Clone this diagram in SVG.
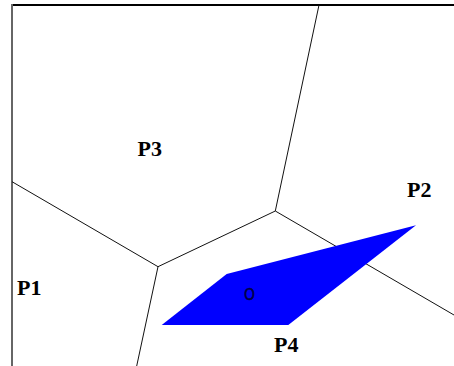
<svg xmlns="http://www.w3.org/2000/svg" width="454" height="366" viewBox="0 0 454 366">
<style>
.edge{stroke:#111;stroke-width:1;fill:none}
.lbl{font-family:"Liberation Serif",serif;font-weight:bold;font-size:22px;fill:#000}
</style>
<rect width="454" height="366" fill="#fff"/>
<g id="frame">
<line x1="12" y1="5" x2="454" y2="5" stroke="#000" stroke-width="2"/>
<line x1="12" y1="4" x2="12" y2="366" stroke="#666" stroke-width="2"/>
</g>
<g id="connectors">
<polyline class="edge" points="319,5 275.3,211 158,266.7 12,181.7"/>
<line class="edge" x1="158" y1="266.7" x2="136.7" y2="366"/>
<line class="edge" x1="275.3" y1="211" x2="454" y2="315"/>
</g>
<g id="region">
<polygon points="161.7,325 226.7,274 416,225.3 288.3,325" fill="#0000ff"/>
<text x="249.5" y="300.5" font-family="Liberation Sans,sans-serif" font-size="16" fill="#000040" stroke="#000040" stroke-width="0.6" text-anchor="middle" transform="translate(249.5 300.5) scale(0.85 1) translate(-249.5 -300.5)">O</text>
</g>
<g id="P3"><text class="lbl" x="137.5" y="155.5">P3</text></g>
<g id="P2"><text class="lbl" x="407" y="196.5">P2</text></g>
<g id="P1"><text class="lbl" x="17" y="295">P1</text></g>
<g id="P4"><text class="lbl" x="274" y="352">P4</text></g>
</svg>
